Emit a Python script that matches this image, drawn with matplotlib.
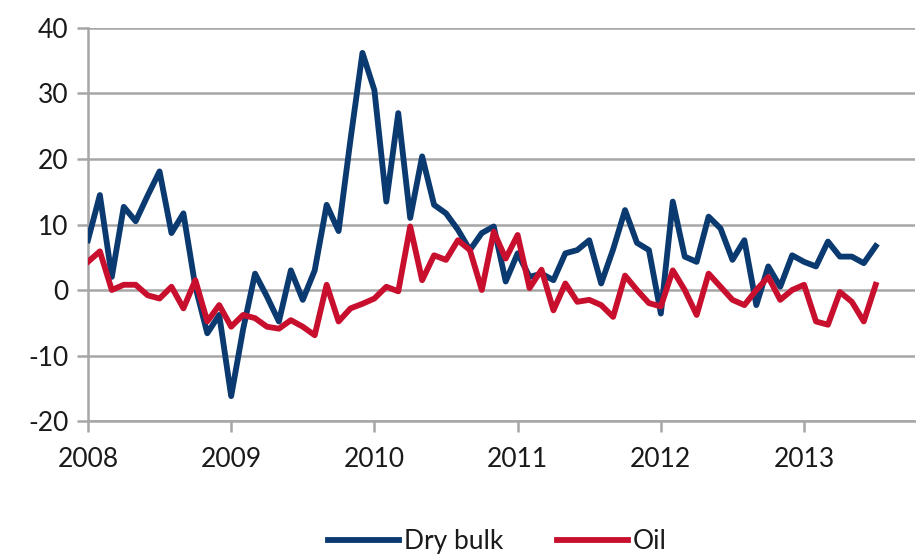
import matplotlib
matplotlib.use("Agg")
import matplotlib.pyplot as plt
import numpy as np

plt.rcParams['font.family'] = ['Lato', 'DejaVu Sans']

# Monthly observations, Jan 2008 .. Jul 2013
dry_bulk = [7.6, 14.5, 2.0, 12.7, 10.5, 14.4, 18.1, 8.7, 11.7, 0.5, -6.6, -3.8,
            -16.2, -6.0, 2.5, -1.0, -4.8, 3.0, -1.5, 3.0, 13.0, 9.0, 23.0, 36.2,
            30.5, 13.5, 27.0, 11.0, 20.4, 13.0, 11.7, 9.2, 6.1, 8.7, 9.7, 1.3,
            5.6, 2.0, 2.5, 1.5, 5.6, 6.1, 7.6, 1.0, 6.2, 12.2, 7.2, 6.1,
            -3.6, 13.5, 5.1, 4.3, 11.2, 9.4, 4.6, 7.6, -2.3, 3.6, 0.5, 5.3,
            4.3, 3.6, 7.4, 5.1, 5.1, 4.1, 6.7]
oil = [4.3, 5.9, 0.0, 0.8, 0.8, -0.8, -1.3, 0.5, -2.8, 1.5, -4.8, -2.3,
       -5.6, -3.8, -4.3, -5.6, -5.9, -4.6, -5.6, -6.9, 0.8, -4.8, -2.8, -2.1,
       -1.3, 0.5, -0.2, 9.7, 1.5, 5.3, 4.6, 7.6, 6.1, 0.0, 8.9, 4.8,
       8.4, 0.3, 3.1, -3.1, 1.0, -1.8, -1.5, -2.3, -4.1, 2.2, 0.0, -2.0,
       -2.5, 3.0, 0.0, -3.8, 2.5, 0.5, -1.5, -2.3, 0.0, 2.0, -1.5, 0.0,
       0.8, -4.8, -5.3, -0.3, -1.8, -4.8, 0.8]
year_labels = ['2008', '2009', '2010', '2011', '2012', '2013']
y_ticks = [-20, -10, 0, 10, 20, 30, 40]

months = np.arange(len(dry_bulk))

fig = plt.figure(figsize=(9.16, 5.54), dpi=100)
ax = fig.add_axes([0.096, 0.240, 0.903, 0.7095])

blue = '#0a3a70'
red = '#c8102e'
grid_c = '#a6a6a6'

ax.plot(months, dry_bulk, color=blue, lw=4.2, label='Dry bulk', solid_joinstyle='round', zorder=3)
ax.plot(months, oil, color=red, lw=4.2, label='Oil', solid_joinstyle='round', zorder=3)

ax.set_ylim(-20, 40)
ax.set_xlim(0, 69.3)
ax.set_yticks(y_ticks)
ax.set_yticklabels([str(v) for v in y_ticks])
ax.set_xticks(np.arange(len(year_labels)) * 12)
ax.set_xticklabels(year_labels)

ax.yaxis.grid(True, color=grid_c, lw=1.8)
ax.set_axisbelow(True)
for s in ['top', 'right']:
    ax.spines[s].set_visible(False)
for s in ['left', 'bottom']:
    ax.spines[s].set_color(grid_c)
    ax.spines[s].set_linewidth(1.8)

ax.tick_params(axis='both', colors=grid_c, width=1.8, length=8, labelsize=19,
               labelcolor='#1a1a1a')
ax.tick_params(axis='y', pad=6)
ax.tick_params(axis='x', pad=11)

fig.legend(loc='center', bbox_to_anchor=(0.543, 0.022), ncol=2, frameon=False,
           fontsize=19, handlelength=2.7, handletextpad=0.2, columnspacing=2.0,
           labelcolor='#1a1a1a')

fig.savefig('out.png', dpi=100)
